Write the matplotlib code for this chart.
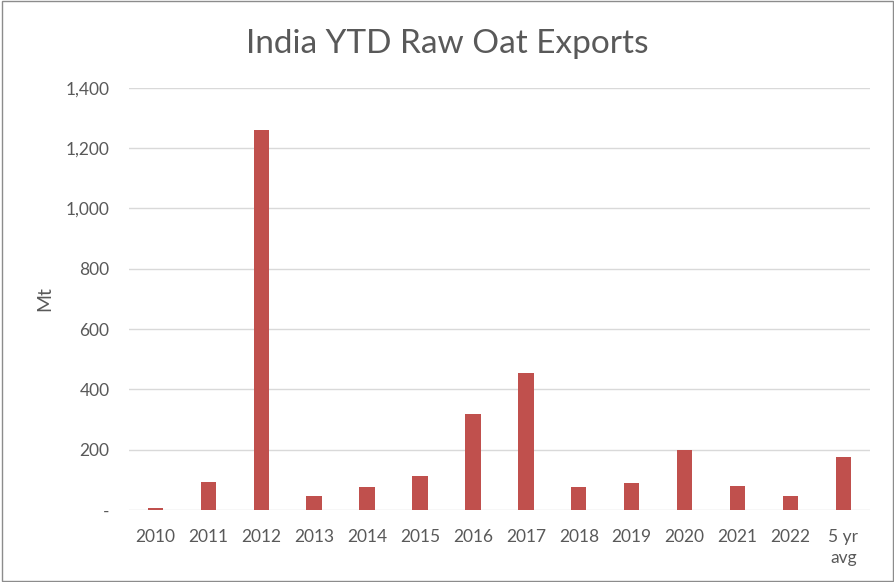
import matplotlib.pyplot as plt
import numpy as np

# Data
years = ["2010", "2011", "2012", "2013", "2014", "2015", "2016",
         "2017", "2018", "2019", "2020", "2021", "2022", "5 yr\navg"]
exports = [8, 94, 1260, 45, 75, 112, 317, 453, 75, 90, 198, 80, 45, 177]
yticks = [0, 200, 400, 600, 800, 1000, 1200, 1400]
ytick_labels = ["-", "200", "400", "600", "800", "1,000", "1,200", "1,400"]

plt.rcParams["font.family"] = ["Lato", "DejaVu Sans"]
text_color = "#595959"

fig = plt.figure(figsize=(8.95, 5.82), dpi=100)
ax = fig.add_axes([0.144, 0.1237, 0.828, 0.7253])

x = np.arange(len(years))
ax.bar(x, exports, width=0.29, color="#c0504d", zorder=3)

ax.set_xlim(-0.5, len(years) - 0.5)
ax.set_ylim(0, 1400)
ax.set_yticks(yticks)
ax.set_yticklabels(ytick_labels)
ax.set_xticks(x)
ax.set_xticklabels(years, va="top", linespacing=1.35)

ax.grid(axis="y", color="#d9d9d9", linewidth=1, zorder=0)
for s in ax.spines.values():
    s.set_visible(False)
ax.tick_params(length=0, colors=text_color, labelsize=12.5)
ax.tick_params(axis="y", pad=14)
ax.tick_params(axis="x", pad=14)

ax.set_ylabel("Mt", color=text_color, fontsize=14, labelpad=9)

fig.text(0.5, 0.925, "India YTD Raw Oat Exports", ha="center", va="center",
         fontsize=24, color=text_color)

# figure border
fig.patches.append(plt.Rectangle((0.002, 0.002), 0.996, 0.996, transform=fig.transFigure,
                                 fill=False, edgecolor="#8c8c8c", linewidth=1))

fig.savefig("out.png", dpi=100)
